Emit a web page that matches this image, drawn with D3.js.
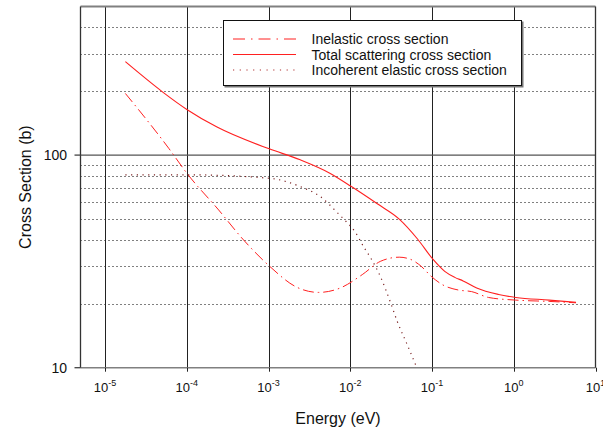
<!DOCTYPE html>
<html><head><meta charset="utf-8">
<script src="https://cdn.jsdelivr.net/npm/d3@7"></script>
<style>body{margin:0;background:#fff}svg{display:block;font-family:Arial,"Liberation Sans",sans-serif}</style>
</head><body><svg id="c" width="603" height="431"></svg>
<script>
// ---- data ----
const totalEnergy = [1.77e-5, 4.98e-5, 1.0e-4, 2.34e-4, 1.02e-3, 2.44e-3, 5.69e-3, 1.02e-2, 2.14e-2, 3.97e-2, 6.68e-2, 1.03e-1, 1.43e-1, 1.9e-1, 2.4e-1, 3.52e-1, 6.52e-1, 1.06, 2.71, 5.78];
const totalValues = [275, 199, 164, 135.5, 107, 95, 82, 71.3, 59, 50, 40.2, 32.3, 28.4, 26.6, 25.6, 23.7, 22.1, 21.4, 20.8, 20.3];

const inelasticEnergy = [1.77e-5, 6.0e-5, 1.0e-4, 2.45e-4, 4.94e-4, 1.02e-3, 2.22e-3, 4.08e-3, 7.52e-3, 1.40e-2, 2.36e-2, 3.97e-2, 5.27e-2, 7.36e-2, 9.77e-2, 1.36e-1, 2.09e-1, 3.05e-1, 4.91e-1, 1.05, 2.71, 5.78];
const inelasticValues = [195, 107.7, 82.2, 55.2, 39.9, 30.1, 23.9, 22.6, 23.7, 27.4, 31.7, 33.1, 32.5, 30.0, 26.9, 24.5, 23.2, 22.8, 21.4, 20.8, 20.5, 20.2];

const incoherentEnergy = [1.77e-5, 1.0e-4, 1.02e-3, 2.44e-3, 4.29e-3, 7.19e-3, 8.71e-3, 1.16e-2, 1.47e-2, 1.77e-2, 2.36e-2, 3.13e-2, 3.78e-2, 5.03e-2, 6.37e-2];
const incoherentValues = [80.8, 80.8, 77.8, 71.1, 63.8, 52.9, 49.1, 43.2, 36.8, 32.9, 26.6, 20.1, 16.4, 12.7, 10.2];

const xTicks = [1e-5, 1e-4, 1e-3, 1e-2, 1e-1, 1e0, 1e1];
const xTickExponents = ["-5", "-4", "-3", "-2", "-1", "0", "1"];
const yMajorTicks = [10, 100];
const yMajorLabels = ["10", "100"];
const yMinorGrid = [20, 30, 40, 50, 60, 70, 80, 90, 200, 300, 400];
const legendLabels = ["Inelastic cross section", "Total scattering cross section", "Incoherent elastic cross section"];
const xTitle = "Energy (eV)";
const yTitle = "Cross Section (b)";

// ---- drawing ----
const svg = d3.select("#c");
const L = 80.5, R = 595.5, T = 6.5, B = 367.7;
const x = d3.scaleLog().domain([5e-6, 10]).range([L, R]);
const y = d3.scaleLog().domain([10, 500]).range([B, T]);

// minor dotted gridlines
svg.append("g").selectAll("line").data(yMinorGrid).join("line")
  .attr("x1", L).attr("x2", R)
  .attr("y1", d => Math.round(y(d)) + 0.5).attr("y2", d => Math.round(y(d)) + 0.5)
  .attr("stroke", "#000").attr("stroke-width", 1).attr("stroke-dasharray", "1,3");

// vertical gridlines
svg.append("g").selectAll("line").data(xTicks.filter(t => t < 10)).join("line")
  .attr("x1", d => Math.round(x(d)) + 0.5).attr("x2", d => Math.round(x(d)) + 0.5)
  .attr("y1", T).attr("y2", B)
  .attr("stroke", "#222").attr("stroke-width", 1);

// major horizontal gridline (100)
svg.append("line").attr("x1", L).attr("x2", R)
  .attr("y1", y(100)).attr("y2", y(100))
  .attr("stroke", "#555").attr("stroke-width", 1.3);

// frame
svg.append("line").attr("x1", L).attr("x2", R).attr("y1", T).attr("y2", T).attr("stroke", "#808080").attr("stroke-width", 1.8);
svg.append("line").attr("x1", L).attr("x2", R).attr("y1", B).attr("y2", B).attr("stroke", "#808080").attr("stroke-width", 1.6);
svg.append("line").attr("x1", L).attr("x2", L).attr("y1", T).attr("y2", B).attr("stroke", "#333").attr("stroke-width", 1.3);
svg.append("line").attr("x1", R).attr("x2", R).attr("y1", T).attr("y2", B).attr("stroke", "#333").attr("stroke-width", 1.3);

// curves
const line = d3.line().x(d => x(d[0])).y(d => y(d[1])).curve(d3.curveMonotoneX);
const series = [
  {e: inelasticEnergy, v: inelasticValues, color: "#ff2020", dash: "11,4,1.5,4", legendDash: "12,6,1.5,6", legendColor: "#ff2020", w: 1},
  {e: totalEnergy, v: totalValues, color: "#ff2020", dash: null, legendDash: null, legendColor: "#ff2020", w: 1.1},
  {e: incoherentEnergy, v: incoherentValues, color: "#7a2020", dash: "1.2,4.5", legendDash: "1.2,5.5", legendColor: "#b03030", w: 1.2}
];
series.forEach(s => {
  svg.append("path").datum(d3.zip(s.e, s.v)).attr("d", line)
    .attr("fill", "none").attr("stroke", s.color).attr("stroke-width", s.w)
    .attr("stroke-dasharray", s.dash);
});

// x ticks and labels
svg.append("g").selectAll("line").data(xTicks).join("line")
  .attr("x1", d => Math.round(x(d)) + 0.5).attr("x2", d => Math.round(x(d)) + 0.5)
  .attr("y1", B).attr("y2", B + 4).attr("stroke", "#222");
const xl = svg.append("g").selectAll("text").data(xTicks).join("text")
  .attr("x", d => x(d)).attr("y", 392).attr("text-anchor", "middle").attr("fill", "#111");
xl.append("tspan").attr("font-size", 13).text("10");
xl.append("tspan").attr("font-size", 9).attr("dy", -6).text((d, i) => xTickExponents[i]);

// y ticks and labels
svg.append("g").selectAll("line").data(yMajorTicks).join("line")
  .attr("x1", L - 6).attr("x2", L).attr("y1", d => y(d)).attr("y2", d => y(d))
  .attr("stroke", "#444").attr("stroke-width", 1.3);
svg.append("g").selectAll("text").data(yMajorTicks).join("text")
  .attr("x", 67).attr("y", d => y(d) + 5).attr("text-anchor", "end")
  .attr("font-size", 14).attr("fill", "#111").text((d, i) => yMajorLabels[i]);

// axis titles
svg.append("text").attr("x", (L + R) / 2).attr("y", 424).attr("text-anchor", "middle")
  .attr("font-size", 16).attr("fill", "#111").text(xTitle);
svg.append("text").attr("transform", `translate(31,${(T + B) / 2}) rotate(-90)`)
  .attr("text-anchor", "middle").attr("font-size", 16).attr("fill", "#111").text(yTitle);

// legend
const lg = svg.append("g");
lg.append("rect").attr("x", 224.5).attr("y", 21.5).attr("width", 299).attr("height", 66).attr("fill", "#777");
lg.append("rect").attr("x", 223.5).attr("y", 20.5).attr("width", 298).attr("height", 65)
  .attr("fill", "#fff").attr("stroke", "#111").attr("stroke-width", 1);
const rowsY = [39, 54.5, 70];
series.forEach((s, i) => {
  lg.append("line").attr("x1", 233).attr("x2", 296).attr("y1", rowsY[i]).attr("y2", rowsY[i])
    .attr("stroke", s.legendColor).attr("stroke-width", s.w)
    .attr("stroke-dasharray", s.legendDash);
  lg.append("text").attr("x", 311.5).attr("y", rowsY[i] + 5).attr("font-size", 14)
    .attr("fill", "#111").text(legendLabels[i]);
});
</script></body></html>
